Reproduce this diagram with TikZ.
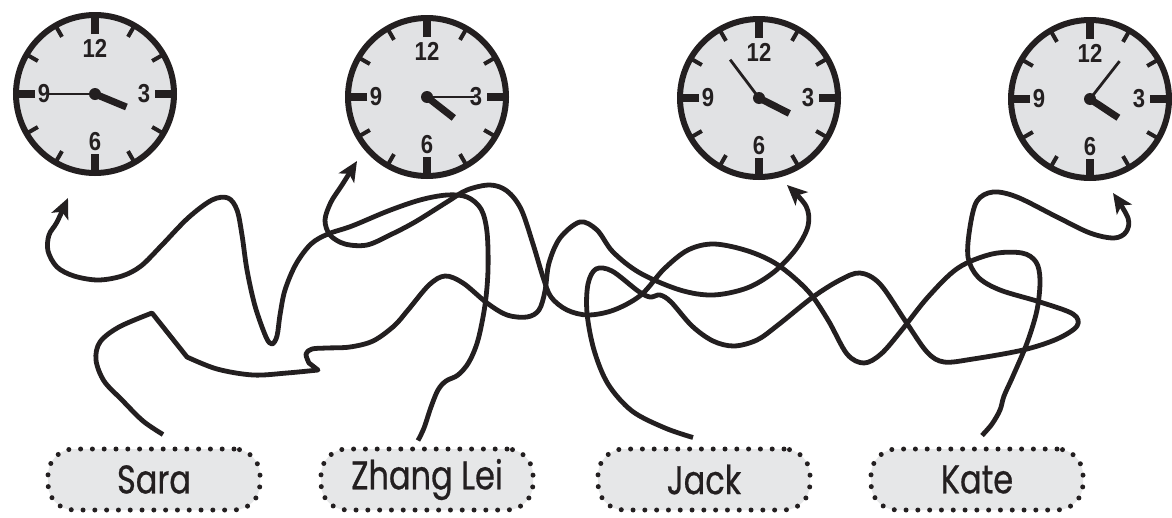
\documentclass[tikz,border=0pt]{standalone}
\usepackage{fontspec}
\usetikzlibrary{arrows.meta,calc}
\newfontfamily\numfont[FakeStretch=0.85]{Liberation Sans}
\newfontfamily\labelfont[FakeStretch=0.8,FakeBold=0.6]{Poppins}
\definecolor{ink}{HTML}{231F20}
\definecolor{facegray}{HTML}{E1E2E4}
\definecolor{boxgray}{HTML}{E6E7E8}
\newcommand\drawclock[4]{%
  \node[clockface] (#1) at (#2) {};
  \foreach \a in {30,60,120,150,210,240,300,330}
    \draw[minortick] ([shift={(\a:66pt)}]#1.center) -- ([shift={(\a:78pt)}]#1.center);
  \foreach \a in {0,90,180,270}
    \draw[majortick] ([shift={(\a:60pt)}]#1.center) -- ([shift={(\a:80pt)}]#1.center);
  \node[clocknum] at ([shift={(90:46pt)}]#1.center) {12};
  \node[clocknum] at ([shift={(0:49pt)}]#1.center) {3};
  \node[clocknum] at ([shift={(270:48pt)}]#1.center) {6};
  \node[clocknum] at ([shift={(180:51pt)}]#1.center) {9};
  \draw[minutehand] (#1.center) -- ([shift={(#4:48pt)}]#1.center);
  \draw[hourhand] (#1.center) -- ([shift={(#3:34pt)}]#1.center);
  \fill[ink] (#1.center) circle[radius=6pt];
}
\begin{document}
\begin{tikzpicture}[x=1pt,y=-1pt,
  clockface/.style={circle, draw=ink, line width=6pt, fill=facegray, inner sep=0pt, minimum size=158pt},
  minortick/.style={draw=ink, line width=4pt},
  majortick/.style={draw=ink, line width=8.5pt},
  clocknum/.style={text=ink, font=\numfont\bfseries\fontsize{26}{26}\selectfont, inner sep=0pt},
  hourhand/.style={draw=ink, line width=7pt},
  minutehand/.style={draw=ink, line width=2.8pt},
  wire/.style={draw=ink, line width=4.8pt, line join=round, -{Stealth[length=20pt,width=18pt,inset=5pt]}},
  namebox/.style={draw=ink, fill=boxgray, rounded corners=26pt, line width=5pt, line cap=round,
    dash pattern=on 0pt off 11.8pt, minimum width=212pt, minimum height=61pt, inner sep=0pt,
    text=ink, font=\labelfont\fontsize{40}{40}\selectfont}]
\useasboundingbox (0,0) rectangle (1172,517);
\fill[white] (0,0) rectangle (1172,517);

% clocks
\drawclock{c1}{95,94}{-22.5}{180}
\drawclock{c2}{427,97}{-38}{0}
\drawclock{c3}{759,98}{-27}{127}
\drawclock{c4}{1090,99}{-33.5}{52}

% labels
\node[namebox] (sara)  at (154,479.5) {Sara};
\node[namebox] (zhang) at (427,479.5) {Zhang Lei};
\node[namebox] (jack)  at (704,479.5) {Jack};
\node[namebox] (kate)  at (977,479.5) {Kate};

% connector ends
\coordinate (sara-top)  at ([xshift=9pt,yshift=12pt]sara.north);
\coordinate (zhang-top) at ([xshift=-9pt,yshift=6pt]zhang.north);
\coordinate (jack-top)  at ([xshift=-11pt,yshift=9pt]jack.north);
\coordinate (kate-top)  at ([xshift=5pt,yshift=11pt]kate.north);
\coordinate (c1-in) at ($(c1)+(-27,104)$);
\coordinate (c2-in) at ($(c2)+(-70,64)$);
\coordinate (c3-in) at ($(c3)+(28,87)$);
\coordinate (c4-in) at ($(c4)+(23,94)$);

% Zhang Lei -> clock 1
\draw[wire] plot[smooth,tension=.55] coordinates {(zhang-top) (424,428) (431,407) (438,390) (446,381)
  (458,375) (469,362) (478,340) (485,305) (488,270) (487,232) (481,209) (467,197) (447,195) (420,200)
  (388,211) (352,226) (328,234) (311,244) (296,264) (285,290) (280,315) (277,336) (272,344) (266,337)
  (255,306) (247,270) (242,235) (237,210) (228,198) (212,200) (188,218) (162,245) (141,266) (122,276)
  (98,280) (74,276) (57,267) (48,251) (49,235) (57,222) (c1-in)};

% Kate -> clock 2
\draw[wire] plot[smooth,tension=.55] coordinates {(kate-top) (992,424) (1000,410) (1004,396) (1013,376)
  (1027,343) (1037,310) (1040,280) (1036,262) (1022,253) (992,254) (958,268) (928,297) (901,331)
  (881,354) (864,363) (847,354) (828,320) (808,291) (778,265) (748,251) (714,244) (688,250) (664,269)
  (641,295) (614,310) (588,315) (567,310) (551,297) (543,277) (533,244) (521,209) (507,191) (490,185)
  (467,190) (447,202) (415,222) (390,235) (367,245) (345,244) (330,235) (325,220) (331,202) (342,185)
  (c2-in)};

% Jack -> clock 4
\draw[wire] plot[smooth,tension=.55] coordinates {(jack-top) (665,428) (632,411) (608,384) (594,350)
  (587,313) (588,284) (596,269) (612,271) (638,291) (650,297) (660,295) (671,302) (692,326) (713,341)
  (734,346) (757,340) (778,325) (813,297) (840,280) (860,273) (880,284) (906,322) (927,352) (944,362)
  (973,359) (1023,350) (1057,339) (1077,326) (1073,314) (1040,302) (1000,290) (978,277) (968,257)
  (970,227) (977,201) (993,192) (1017,197) (1057,217) (1090,233) (1114,238) (1126,232) (1128,218)
  (c4-in)};

% Sara -> clock 3
\draw[wire] plot[smooth,tension=.55] coordinates {(sara-top) (143,421) (122,400) (104,381) (96,360)
  (100,342) (119,327) (152,313)}
  -- plot[smooth,tension=.55] coordinates {(187,357) (217,369) (253,375) (287,373) (318,370)}
  -- plot[smooth,tension=.55] coordinates {(309,363) (306,354) (312,349) (327,348) (350,347) (373,341)
  (394,326) (408,310) (429,285) (445,276) (463,283) (487,303) (507,315) (527,317) (539,310) (545,291)
  (549,263) (560,238) (580,222) (597,230) (613,252) (640,273) (680,290) (713,295) (747,288) (774,272)
  (796,249) (808,226) (806,206) (c3-in)};
\end{tikzpicture}
\end{document}
